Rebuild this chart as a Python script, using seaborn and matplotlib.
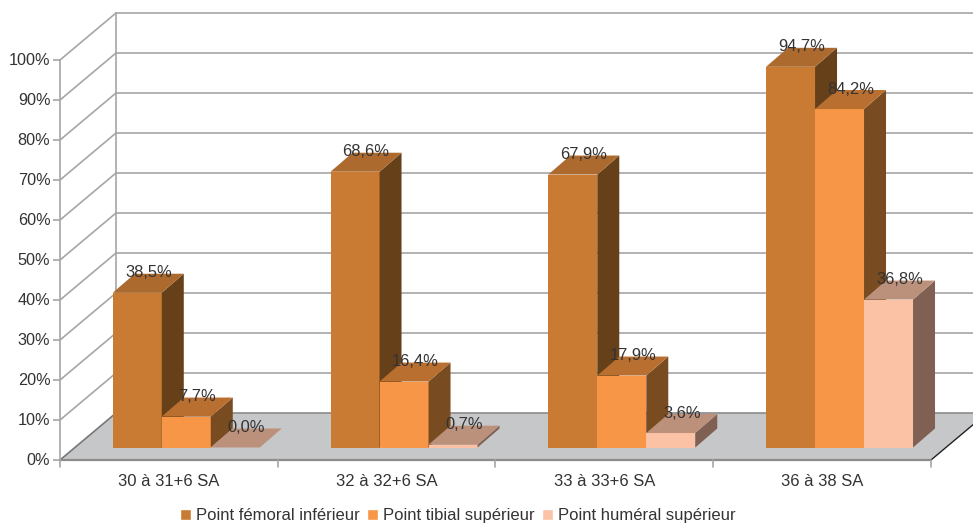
import pandas as pd
import matplotlib
matplotlib.use('Agg')
import matplotlib.pyplot as plt
from matplotlib.patches import Polygon
from matplotlib.transforms import IdentityTransform, Affine2D
import seaborn as sns

# Valeurs
categories = ['30 à 31+6 SA', '32 à 32+6 SA', '33 à 33+6 SA', '36 à 38 SA']
series = ['Point fémoral inférieur', 'Point tibial supérieur', 'Point huméral supérieur']
femoral = [38.5, 68.6, 67.9, 94.7]
tibial = [7.7, 16.4, 17.9, 84.2]
humeral = [0.0, 0.7, 3.6, 36.8]
y_ticks = list(range(0, 101, 10))

front_colors = ['#C97B33', '#F79646', '#FBC2A6']
side_colors = ['#664019', '#784B20', '#7F6052']
top_colors = ['#AD6A2F', '#B96F30', '#BC917B']
grid_color = '#A6A6A6'

df = pd.DataFrame({
    'groupe': categories * 3,
    'point': [s for s in series for _ in categories],
    'valeur': femoral + tibial + humeral,
})

W, H = 973, 523
DX, DY = 56, 47      # profondeur du cadre (pixels)
BX, BY = 22, 19      # profondeur des barres (pixels)

sns.set_theme(style='white')
plt.rcParams['font.family'] = ['Liberation Sans', 'DejaVu Sans']
fig = plt.figure(figsize=(W / 100, H / 100), dpi=100)


def box(x0, x1, y_bottom, y_top):
    return [x0 / W, 1 - y_bottom / H, (x1 - x0) / W, (y_bottom - y_top) / H]


# Cadre : axe avant, murs, sol
frame = fig.add_axes(box(60, 931, 460, 60))
frame.set_xlim(-0.5, 3.5)
frame.set_ylim(0, 100)
frame.patch.set_visible(False)
for name, spine in frame.spines.items():
    spine.set_visible(name == 'left')
    spine.set_color(grid_color)
    spine.set_linewidth(1.2)
frame.set_yticks(y_ticks)
frame.set_yticklabels([f'{t}%' for t in y_ticks], fontsize=11.7, color='#333333')
frame.set_xticks(range(len(categories)))
frame.set_xticklabels(categories, fontsize=12, color='#333333')
frame.tick_params(axis='y', length=5, width=1.2, color=grid_color, pad=2, left=True)
frame.tick_params(axis='x', length=0, pad=10, bottom=False)
for lab in frame.get_yticklabels():
    lab.set_transform(lab.get_transform() + Affine2D().translate(0, 1))

to_px = frame.transData.transform
idt = IdentityTransform()

x0, y0 = to_px((-0.5, 0))
x1, _ = to_px((3.5, 0))
floor = Polygon([(x0, y0), (x1, y0), (x1 + DX, y0 + DY), (x0 + DX, y0 + DY)],
                transform=idt, facecolor='#C6C7C9', edgecolor='none', clip_on=False, zorder=1)
frame.add_patch(floor)

for t in y_ticks:
    _, y = to_px((0, t))
    frame.plot([x0 + DX, x1 + DX], [y + DY, y + DY], transform=idt, color=grid_color if t else '#8C8C8C',
               lw=1.2, clip_on=False, zorder=0.5 if t else 2)
    frame.plot([x0, x0 + DX], [y, y + DY], transform=idt, color=grid_color if t else '#777777',
               lw=1.2, clip_on=False, zorder=2)
_, y100 = to_px((0, 100))
frame.plot([x0 + DX, x0 + DX], [y0 + DY, y100 + DY], transform=idt, color=grid_color, lw=1.2, zorder=0.5, clip_on=False)
frame.plot([x0, x1], [y0, y0], transform=idt, color='#8C8C8C', lw=1.6, zorder=2, clip_on=False)
frame.plot([x1, x1 + DX], [y0, y0 + DY], transform=idt, color='#222222', lw=1, zorder=2, clip_on=False)
for i in range(len(categories) + 1):
    xt, _ = to_px((i - 0.5, 0))
    frame.plot([xt, xt], [y0, y0 - 7], transform=idt, color=grid_color, lw=1.2, zorder=2, clip_on=False)

# Barres
ax = fig.add_axes(box(77.4, 948.4, 447.5, 45.5))
ax.patch.set_visible(False)
sns.barplot(data=df, x='groupe', y='valeur', hue='point', order=categories, hue_order=series,
            palette=front_colors, saturation=1, width=0.675, gap=0, ax=ax)
ax.set_xlim(-0.5, 3.5)
ax.set_ylim(0, 100)

bars = []
for k, container in enumerate(ax.containers):
    for bar in container:
        bars.append((bar, k))
bars.sort(key=lambda b: b[0].get_x())

for i, (bar, k) in enumerate(bars):
    bx0, by0 = ax.transData.transform((bar.get_x(), 0))
    bx1, by1 = ax.transData.transform((bar.get_x() + bar.get_width(), bar.get_height()))
    bar.set_zorder(10 + i)
    bar.set_edgecolor('none')
    ax.add_patch(Polygon([(bx1, by0), (bx1 + BX, by0 + BY), (bx1 + BX, by1 + BY), (bx1, by1)],
                         transform=idt, facecolor=side_colors[k], edgecolor='none', clip_on=False, zorder=10 + i))
    ax.add_patch(Polygon([(bx0, by1), (bx1, by1), (bx1 + BX, by1 + BY), (bx0 + BX, by1 + BY)],
                         transform=idt, facecolor=top_colors[k], edgecolor='none', clip_on=False, zorder=10 + i))
    label = f'{bar.get_height():.1f}%'.replace('.', ',')
    ax.annotate(label, (bar.get_x() + bar.get_width() / 2, bar.get_height()), xytext=(11, 20),
                textcoords='offset pixels', ha='center', va='center', fontsize=11.9,
                color='#333333', zorder=100, annotation_clip=False)

sns.move_legend(ax, 'lower center', bbox_to_anchor=((457.5 - 77.4) / 871, -0.226), ncol=3,
                frameon=False, title=None, fontsize=12, handlelength=0.68, handleheight=0.68,
                handletextpad=0.26, columnspacing=0.46, labelcolor='#333333')
ax.axis('off')

fig.savefig('out.png', dpi=100)
